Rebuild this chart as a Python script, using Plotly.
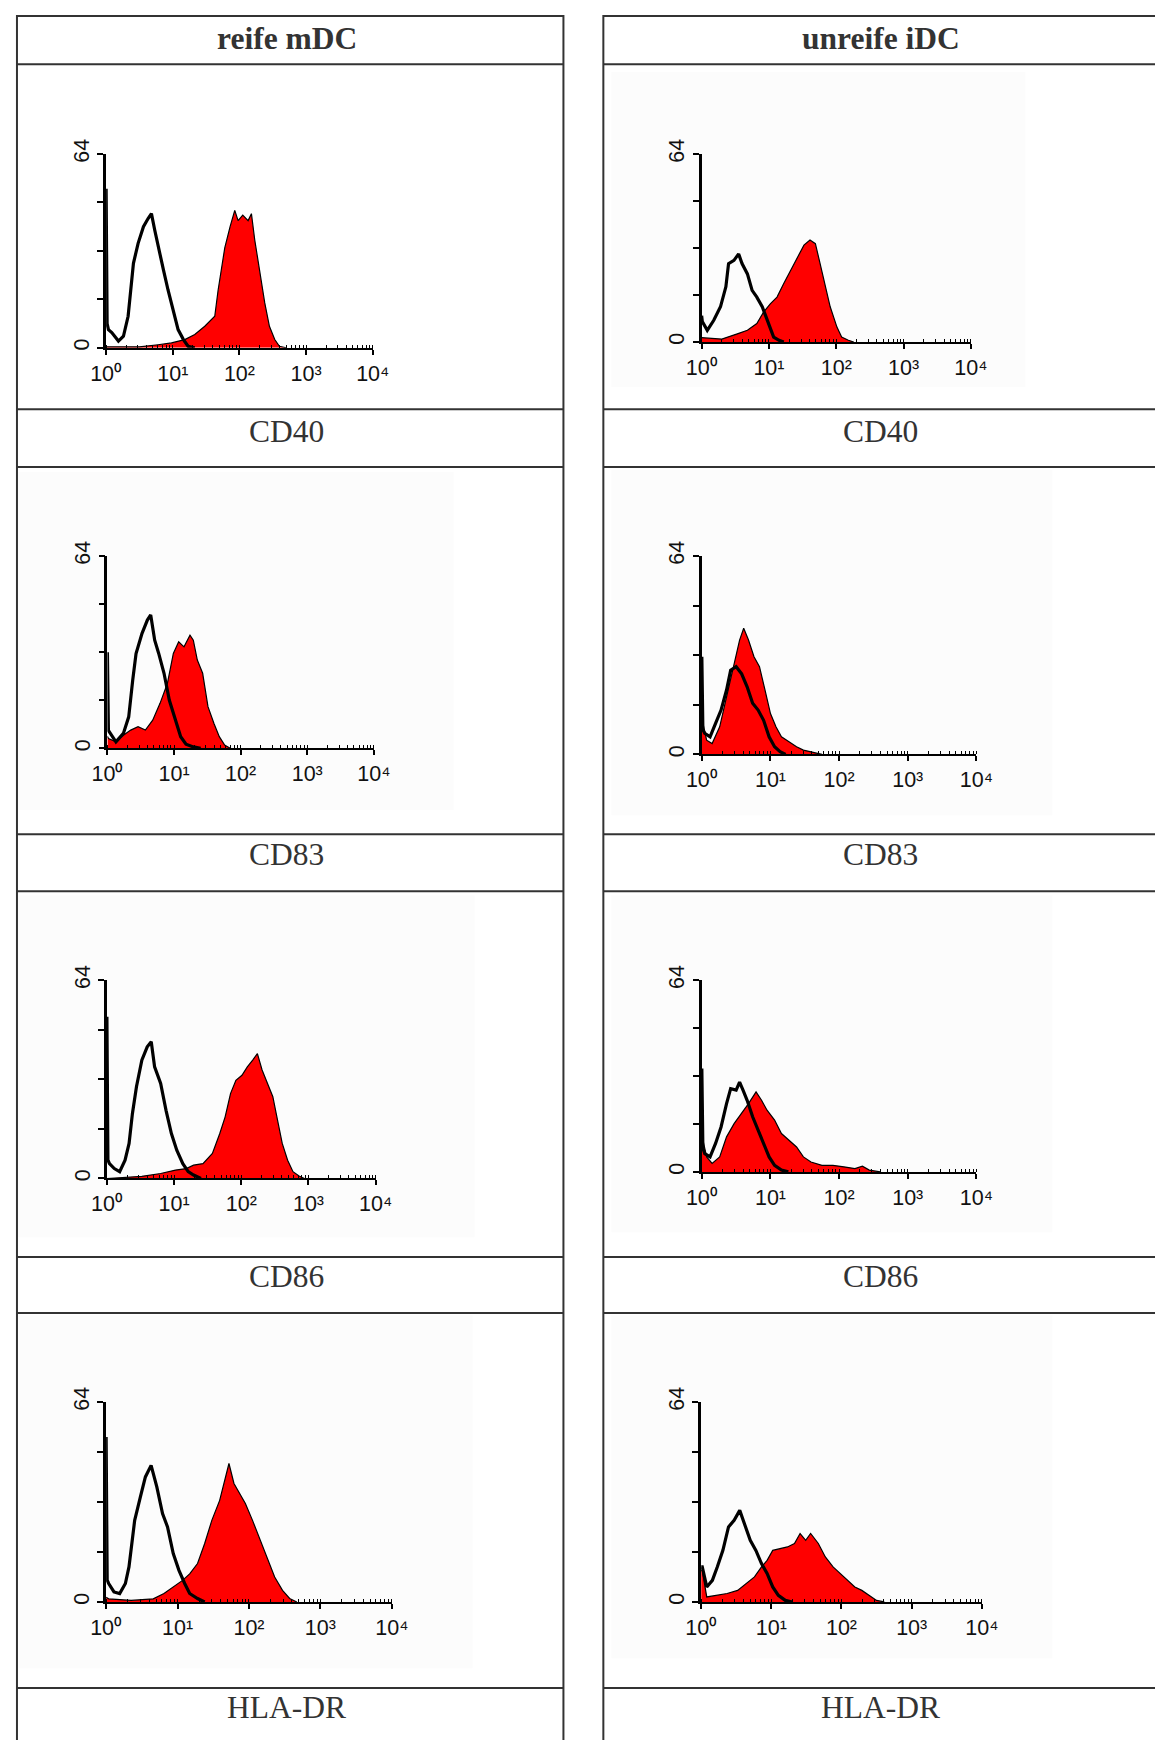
import plotly.graph_objects as go

# ---------------- data (log10 fluorescence exponent, cell count) ----------------
column_titles = ["reife mDC", "unreife iDC"]
marker_labels = ["CD40", "CD83", "CD86", "HLA-DR"]
x_tick_labels = ["10⁰", "10¹", "10²", "10³", "10⁴"]
y_tick_labels = ["0", "64"]

# reife mDC - CD40
mdc_cd40_ctrl_e = [0.0, 0.015, 0.035, 0.085, 0.185, 0.26, 0.33, 0.41, 0.48, 0.56, 0.63, 0.68, 0.73, 0.78, 0.86, 0.93, 1.01, 1.08, 1.16, 1.23, 1.33]
mdc_cd40_ctrl_n = [52.5, 8, 6, 5, 2.2, 3.8, 10.4, 27.9, 34.5, 40, 42.7, 44.3, 38.8, 33.4, 25.7, 19, 12.6, 6, 2.7, 0.5, 0]
mdc_cd40_stain_e = [0.0, 0.5, 0.78, 0.98, 1.18, 1.33, 1.48, 1.63, 1.68, 1.73, 1.78, 1.86, 1.93, 1.98, 2.05, 2.13, 2.18, 2.23, 2.30, 2.38, 2.45, 2.53, 2.60, 2.7]
mdc_cd40_stain_n = [0.3, 0.3, 1, 1.6, 2.7, 4.4, 7.1, 10.4, 19, 25.7, 33, 40, 45.4, 42, 43.8, 42, 44.3, 35.6, 25.7, 14.8, 7.1, 2.7, 0.5, 0]

# unreife iDC - CD40
idc_cd40_ctrl_e = [0.0, 0.01, 0.084, 0.18, 0.28, 0.36, 0.40, 0.48, 0.55, 0.60, 0.68, 0.75, 0.82, 0.90, 0.95, 1.02, 1.07, 1.15, 1.22]
idc_cd40_ctrl_n = [9, 7, 4, 7.4, 12, 18.8, 26.7, 27.8, 30, 26.7, 23.2, 17.6, 15.3, 12, 9, 5, 1.7, 0.6, 0]
idc_cd40_stain_e = [0.0, 0.3, 0.53, 0.68, 0.82, 0.92, 1.02, 1.12, 1.22, 1.32, 1.42, 1.52, 1.61, 1.69, 1.76, 1.84, 1.91, 2.01, 2.08, 2.18, 2.26]
idc_cd40_stain_n = [1.5, 1, 2.8, 4, 6.3, 10.2, 13, 15.3, 19.9, 24.4, 29, 33, 34.7, 33.5, 26.7, 18.8, 12, 5.1, 1.7, 0.6, 0]

# reife mDC - CD83
mdc_cd83_ctrl_e = [0.0, 0.015, 0.044, 0.128, 0.24, 0.32, 0.38, 0.43, 0.52, 0.60, 0.65, 0.71, 0.77, 0.85, 0.93, 1.02, 1.10, 1.18, 1.29, 1.4]
mdc_cd83_ctrl_n = [32, 6, 5, 2.2, 5, 10.5, 22.7, 31.6, 38.3, 42.7, 44.4, 36, 31.6, 25, 16, 9.4, 3.9, 1.4, 0.5, 0]
mdc_cd83_stain_e = [0.0, 0.017, 0.128, 0.24, 0.35, 0.46, 0.57, 0.68, 0.79, 0.90, 0.99, 1.07, 1.15, 1.24, 1.29, 1.35, 1.43, 1.51, 1.60, 1.68, 1.76, 1.85]
mdc_cd83_stain_n = [4, 3.3, 2.2, 4.4, 6.1, 7.2, 6.1, 9.4, 15, 21.6, 31.6, 35.5, 33.8, 37.7, 36, 29.4, 25, 13.9, 8.3, 3.9, 1.1, 0]

# unreife iDC - CD83
idc_cd83_ctrl_e = [0.0, 0.015, 0.043, 0.12, 0.20, 0.28, 0.36, 0.42, 0.50, 0.58, 0.66, 0.74, 0.82, 0.90, 0.98, 1.06, 1.14, 1.22]
idc_cd83_ctrl_n = [31.5, 8, 6.8, 5.7, 10, 14.3, 20.8, 27.2, 28.3, 26, 21.8, 16.5, 14.3, 11, 5.7, 2.5, 0.9, 0]
idc_cd83_stain_e = [0.0, 0.016, 0.07, 0.15, 0.26, 0.36, 0.47, 0.55, 0.61, 0.68, 0.76, 0.84, 0.92, 1.0, 1.08, 1.16, 1.27, 1.38, 1.48, 1.64, 1.75]
idc_cd83_stain_n = [10, 10, 4.6, 3.5, 8.9, 18.6, 28.3, 36.9, 40.7, 36.9, 31.5, 28.3, 20.8, 13.2, 8.9, 5.7, 4.1, 2.5, 1.4, 0.5, 0]

# reife mDC - CD86
mdc_cd86_ctrl_e = [0.0, 0.015, 0.038, 0.11, 0.19, 0.27, 0.33, 0.38, 0.44, 0.52, 0.60, 0.66, 0.71, 0.80, 0.88, 0.96, 1.04, 1.13, 1.21, 1.29, 1.40]
mdc_cd86_ctrl_n = [52.2, 6, 4.8, 3.2, 2.2, 5.9, 11.3, 21, 29.6, 38.2, 42.5, 44.1, 36, 30.7, 22, 14.5, 9.1, 4.8, 2.2, 1.1, 0]
mdc_cd86_stain_e = [0.0, 0.52, 0.80, 1.02, 1.18, 1.29, 1.43, 1.57, 1.68, 1.76, 1.84, 1.92, 2.01, 2.09, 2.17, 2.24, 2.31, 2.39, 2.47, 2.53, 2.61, 2.69, 2.77, 2.86, 2.94]
mdc_cd86_stain_n = [0, 0.7, 1.6, 2.7, 3.2, 4.3, 4.8, 8.1, 14.5, 19.9, 27.4, 31.7, 33.3, 36, 38.2, 40.3, 35, 30.7, 26.4, 19.9, 11.3, 5.9, 2.2, 0.8, 0]

# unreife iDC - CD86
idc_cd86_ctrl_e = [0.0, 0.015, 0.043, 0.12, 0.20, 0.28, 0.36, 0.42, 0.50, 0.55, 0.60, 0.66, 0.74, 0.82, 0.90, 0.98, 1.06, 1.16, 1.26]
idc_cd86_ctrl_n = [34.5, 8, 6.1, 5, 9.5, 15, 22.8, 27.8, 27.3, 30, 27.3, 23.9, 18.4, 13.9, 9.5, 5, 2.2, 0.6, 0]
idc_cd86_stain_e = [0.0, 0.016, 0.07, 0.15, 0.26, 0.36, 0.47, 0.58, 0.68, 0.79, 0.87, 0.95, 1.06, 1.16, 1.27, 1.38, 1.48, 1.59, 1.75, 1.91, 2.07, 2.23, 2.34, 2.44, 2.60]
idc_cd86_stain_n = [10.6, 10.6, 5, 2.8, 5, 11.7, 16.1, 19.5, 22.8, 26.7, 23.9, 20.6, 17.3, 12.8, 10.6, 8.3, 5, 3.3, 2.2, 2.2, 1.7, 1.1, 1.9, 0.6, 0]

# reife mDC - HLA-DR
mdc_hla_ctrl_e = [0.0, 0.015, 0.036, 0.11, 0.19, 0.27, 0.32, 0.40, 0.48, 0.55, 0.63, 0.71, 0.79, 0.86, 0.94, 1.02, 1.10, 1.17, 1.28, 1.38]
mdc_hla_ctrl_n = [52.8, 7, 5.9, 3.2, 2.7, 5.9, 11.2, 26.1, 33.6, 40, 43.7, 36.8, 28.3, 24, 15.5, 10.1, 5.9, 2.7, 1.1, 0]
mdc_hla_stain_e = [0.0, 0.036, 0.35, 0.66, 0.81, 0.97, 1.07, 1.17, 1.28, 1.38, 1.48, 1.59, 1.66, 1.72, 1.79, 1.87, 1.95, 2.05, 2.16, 2.26, 2.36, 2.47, 2.57, 2.67]
mdc_hla_stain_n = [1.5, 1, 0.5, 1, 2.7, 5.3, 6.9, 9, 12.3, 18.7, 26.1, 32.5, 38.9, 44.3, 37.9, 34.7, 31.5, 26.1, 19.7, 13.3, 8, 3.7, 1.1, 0]

# unreife iDC - HLA-DR
idc_hla_ctrl_e = [0.0, 0.016, 0.08, 0.16, 0.23, 0.31, 0.39, 0.47, 0.55, 0.63, 0.70, 0.78, 0.86, 0.94, 1.02, 1.10, 1.20, 1.30]
idc_hla_ctrl_n = [11.2, 11.2, 4.8, 6.9, 11.2, 16.5, 24, 26.1, 29.3, 24, 19.7, 16.5, 12.3, 9.1, 4.8, 2.1, 0.5, 0]
idc_hla_stain_e = [0.0, 0.016, 0.08, 0.21, 0.37, 0.52, 0.65, 0.76, 0.86, 0.94, 1.02, 1.12, 1.23, 1.33, 1.41, 1.49, 1.56, 1.67, 1.77, 1.88, 1.98, 2.09, 2.19, 2.29, 2.40, 2.50, 2.61]
idc_hla_stain_n = [10.1, 10.1, 1.6, 2.1, 2.7, 3.7, 5.9, 8, 11.2, 13.3, 16.5, 17.1, 17.6, 18.7, 21.9, 19.7, 21.9, 18.7, 14.4, 11.2, 9.1, 6.9, 4.8, 3.7, 2.1, 0.5, 0]

# ---------------- layout geometry ----------------
# Positions below are given in target-picture pixels; the photographed page is
# framed with a small margin, so they are mapped back to page pixels here.
W, H = 1155, 1740
SX, OX = 0.9735, 14.4
SY, OY = 0.9895, 15.0
def px(x):
    return ((x - OX) / SX) / W
def py(y):
    return 1 - ((y - OY) / SY) / H

panels = [
    (mdc_cd40_ctrl_e, mdc_cd40_ctrl_n, mdc_cd40_stain_e, mdc_cd40_stain_n, (104.7, 371.9, 154, 347.7)),
    (idc_cd40_ctrl_e, idc_cd40_ctrl_n, idc_cd40_stain_e, idc_cd40_stain_n, (701.5, 971.3, 154, 342.0)),
    (mdc_cd83_ctrl_e, mdc_cd83_ctrl_n, mdc_cd83_stain_e, mdc_cd83_stain_n, (106.0, 373.0, 556, 748.3)),
    (idc_cd83_ctrl_e, idc_cd83_ctrl_n, idc_cd83_stain_e, idc_cd83_stain_n, (701.7, 976.8, 556, 754.3)),
    (mdc_cd86_ctrl_e, mdc_cd86_ctrl_n, mdc_cd86_stain_e, mdc_cd86_stain_n, (105.5, 374.8, 980, 1178.3)),
    (idc_cd86_ctrl_e, idc_cd86_ctrl_n, idc_cd86_stain_e, idc_cd86_stain_n, (701.7, 976.8, 980, 1171.7)),
    (mdc_hla_ctrl_e, mdc_hla_ctrl_n, mdc_hla_stain_e, mdc_hla_stain_n, (104.7, 391.0, 1401.7, 1601.7)),
    (idc_hla_ctrl_e, idc_hla_ctrl_n, idc_hla_stain_e, idc_hla_stain_n, (701.0, 982.3, 1401.7, 1601.7)),
]

fig = go.Figure()
layout_axes = {}
tickfont = dict(family="Liberation Sans, Arial, sans-serif", size=21.5, color="#111111")

for i, (ce, cn, se, sn, (x0, x1, y0, y1)) in enumerate(panels, start=1):
    xs = "x" if i == 1 else f"x{i}"
    ys = "y" if i == 1 else f"y{i}"
    fig.add_trace(go.Scatter(
        x=[10 ** e for e in se], y=sn, mode="lines", fill="tozeroy",
        fillcolor="#ff0000", line=dict(color="#000000", width=1.2),
        xaxis=xs, yaxis=ys, hoverinfo="skip", showlegend=False))
    fig.add_trace(go.Scatter(
        x=[10 ** e for e in ce], y=cn, mode="lines",
        line=dict(color="#000000", width=3.2),
        xaxis=xs, yaxis=ys, hoverinfo="skip", showlegend=False))
    xkey = "xaxis" if i == 1 else f"xaxis{i}"
    ykey = "yaxis" if i == 1 else f"yaxis{i}"
    layout_axes[xkey] = dict(
        type="log", range=[0, 4], domain=[px(x0), px(x1)], anchor=ys,
        showgrid=False, zeroline=False, showline=True, linecolor="black", linewidth=2,
        ticks="outside", ticklen=5, tickwidth=1.5, tickcolor="black",
        tickmode="array", tickvals=[1, 10, 100, 1000, 10000], ticktext=x_tick_labels,
        tickfont=tickfont, tickangle=0, fixedrange=True,
        minor=dict(ticks="inside", ticklen=3, tickwidth=1, tickcolor="black", dtick="D1", showgrid=False))
    layout_axes[ykey] = dict(
        range=[0, 64], domain=[py(y1), py(y0)], anchor=xs,
        showgrid=False, zeroline=False, showline=True, linecolor="black", linewidth=2.5,
        ticks="outside", ticklen=6, tickwidth=1.5, tickcolor="black",
        tickmode="array", tickvals=[0, 64], ticktext=y_tick_labels,
        tickangle=-90, tickfont=tickfont, fixedrange=True,
        minor=dict(ticks="outside", ticklen=6, tickwidth=1.5, tickcolor="black", tick0=0, dtick=16, showgrid=False))

# ---------------- table frame ----------------
shapes = []
line_col = "#333333"
bg_boxes = [(611, 1026, 72, 387), (15, 453, 472, 810), (611, 1053, 470, 815),
            (16, 474, 895, 1237), (611, 1053, 895, 1232), (17, 472, 1315, 1668), (611, 1053, 1315, 1658)]
for (bx0, bx1, by0, by1) in bg_boxes:
    shapes.append(dict(type="rect", xref="paper", yref="paper", x0=max(px(bx0), 0.002), x1=px(bx1),
                       y0=py(by1), y1=py(by0), fillcolor="#fcfcfc", line=dict(width=0), layer="below"))

top_line = OY + SY * 1.0          # first visible row, as close to the reference top edge as possible
left_edge = OX + SX * 1.0         # left table border, as close to the reference left edge as possible
row_lines = [top_line, 64.3, 409.3, 467.0, 834.0, 891.0, 1256.7, 1312.7, 1687.7]
tables = [(left_edge, 563.0, True), (603.0, 1175.0, False)]
for (tx0, tx1, closed) in tables:
    for yl in row_lines:
        shapes.append(dict(type="line", xref="paper", yref="paper", x0=px(tx0), x1=px(tx1),
                           y0=py(yl), y1=py(yl), line=dict(color=line_col, width=2)))
    vx = [tx0, tx1] if closed else [tx0]
    for xv in vx:
        shapes.append(dict(type="line", xref="paper", yref="paper", x0=px(xv), x1=px(xv),
                           y0=py(top_line - 1), y1=py(1760), line=dict(color=line_col, width=2)))

annotations = []
col_centers = [285.5, 881.0]
serif = "Liberation Serif, Times New Roman, serif"
for c, t in zip(col_centers, column_titles):
    annotations.append(dict(text=f"<b>{t}</b>", x=px(c), y=py(38), xref="paper", yref="paper",
                            showarrow=False, xanchor="center", yanchor="middle",
                            font=dict(family=serif, size=31.5, color="#333333")))
label_y = [431, 854, 1276, 1707]
for ly, lab in zip(label_y, marker_labels):
    for c in col_centers:
        annotations.append(dict(text=lab, x=px(c), y=py(ly), xref="paper", yref="paper",
                                showarrow=False, xanchor="center", yanchor="middle",
                                font=dict(family=serif, size=31.5, color="#333333")))

fig.update_layout(
    width=W, height=H, margin=dict(l=0, r=0, t=0, b=0),
    paper_bgcolor="white", plot_bgcolor="rgba(0,0,0,0)",
    showlegend=False, shapes=shapes, annotations=annotations, **layout_axes)

reset_js = (
    "var d=document.getElementById('{plot_id}');"
    "document.documentElement.style.margin='0';document.documentElement.style.padding='0';"
    "document.documentElement.style.overflow='hidden';"
    "document.body.style.margin='0';document.body.style.padding='0';document.body.style.overflow='hidden';"
    "d.style.position='fixed';d.style.left='0px';d.style.top='0px';"
)
fig.write_html("out.html", config={"displayModeBar": False}, post_script=reset_js)
